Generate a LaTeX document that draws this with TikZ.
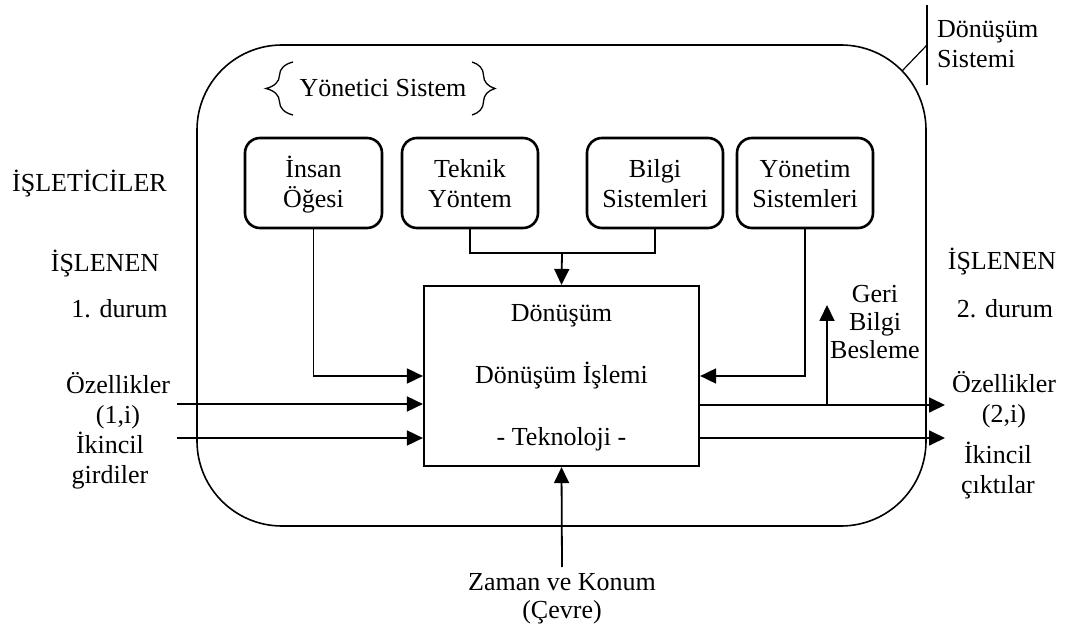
\documentclass[tikz,border=0pt]{standalone}
\usepackage{fontspec}
\setmainfont{Liberation Serif}
\usetikzlibrary{arrows.meta,decorations.pathreplacing}
\begin{document}
\begin{tikzpicture}[x=1pt,y=-1pt,
  every node/.style={font=\fontsize{26}{30}\selectfont, inner sep=0pt},
  lbl/.style={anchor=base, align=center},
  sysbox/.style={draw, line width=1.6pt, rounded corners=85pt,
    minimum width=729pt, minimum height=481pt},
  unit/.style={draw, line width=2.6pt, rounded corners=15pt,
    minimum width=136pt, minimum height=90pt, align=center,
    text height=56pt, text depth=7pt},
  corebox/.style={draw, line width=2.2pt, minimum width=275pt, minimum height=180pt},
  link/.style={line width=1.8pt},
  flow/.style={line width=1.8pt, -{Triangle[length=16pt,width=15pt]}},
  brc/.style={line width=1.3pt, decorate, decoration={brace, amplitude=#1}},
]
\useasboundingbox (0,0) rectangle (1069,631);

% transformation system frame
\node[sysbox] (sys) at (561.5,285.5) {};

% system label with its pointer
\coordinate (tagTop) at (927,5);
\coordinate (tagBot) at (927,85);
\coordinate (tagKnee) at (927,45);
\coordinate (tagArc) at (902,71);
\draw[line width=1.2pt] (tagTop) -- (tagBot);
\draw[line width=1.2pt] (tagArc) -- (tagKnee);
\node[anchor=base west, align=left] (tag) at (937,68) {Dönüşüm\\Sistemi};

% management system heading in braces
\node[lbl] (mgmt) at (383,97) {Yönetici Sistem};
\coordinate (bl1) at (293,115);
\coordinate (bl2) at (293,62);
\coordinate (br1) at (472,62);
\coordinate (br2) at (472,115);
\draw[brc=27] (bl1) -- (bl2);
\draw[brc=23] (br1) -- (br2);

% component boxes
\node[unit, minimum width=137pt] (b1) at (313.5,183) {İnsan\\Öğesi};
\node[unit] (b2) at (470,183) {Teknik\\Yöntem};
\node[unit] (b3) at (655,183) {Bilgi\\Sistemleri};
\node[unit] (b4) at (805,183) {Yönetim\\Sistemleri};

% transformation process
\node[corebox] (core) at (561.5,376) {};
\node[lbl] (c1) at (561.5,322) {Dönüşüm};
\node[lbl] (c2) at (561.5,383) {Dönüşüm İşlemi};
\node[lbl] (c3) at (561.5,445) {- Teknoloji -};

% links from the components
\draw[flow] (b1.south) |- (core.west);
\draw[flow] (b4.south) |- (core.east);
\coordinate (join) at (562,253);
\draw[link] (b2.south) |- (join) -| (b3.south);
\draw[flow] (join) -- (core.north);

% inputs
\coordinate (in1) at (177,404);
\coordinate (in2) at (177,438);
\draw[flow] (in1) -- (in1 -| core.west);
\draw[flow] (in2) -- (in2 -| core.west);

% outputs and feedback
\coordinate (out1) at (945,405);
\coordinate (out2) at (945,438);
\coordinate (fb) at (827,305);
\draw[flow] (core.east |- out1) -- (out1);
\draw[flow] (core.east |- out2) -- (out2);
\draw[flow] (fb |- out1) -- (fb);
\node[lbl, font=\fontsize{26}{28}\selectfont] (fbt) at (875,358) {Geri\\Bilgi\\Besleme};

% environment
\node[lbl, font=\fontsize{26}{28}\selectfont] (env) at (562,618) {Zaman ve Konum\\(Çevre)};
\coordinate (envTop) at (562,567);
\draw[flow] (envTop) -- (core.south);

% left side labels
\node[lbl] (op) at (89.5,192) {İŞLETİCİLER};
\node[lbl] (lin) at (105,272) {İŞLENEN};
\node[lbl] (ld) at (119.5,318) {1. durum};
\node[lbl] (lp) at (118,423) {Özellikler\\(1,i)};
\node[lbl] (ls) at (110,483) {İkincil\\girdiler};

% right side labels
\node[lbl] (rin) at (1002,270) {İŞLENEN};
\node[lbl] (rd) at (1005,317) {2. durum};
\node[lbl] (rp) at (1004,422) {Özellikler\\(2,i)};
\node[lbl] (rs) at (998,493) {İkincil\\çıktılar};
\end{tikzpicture}
\end{document}
